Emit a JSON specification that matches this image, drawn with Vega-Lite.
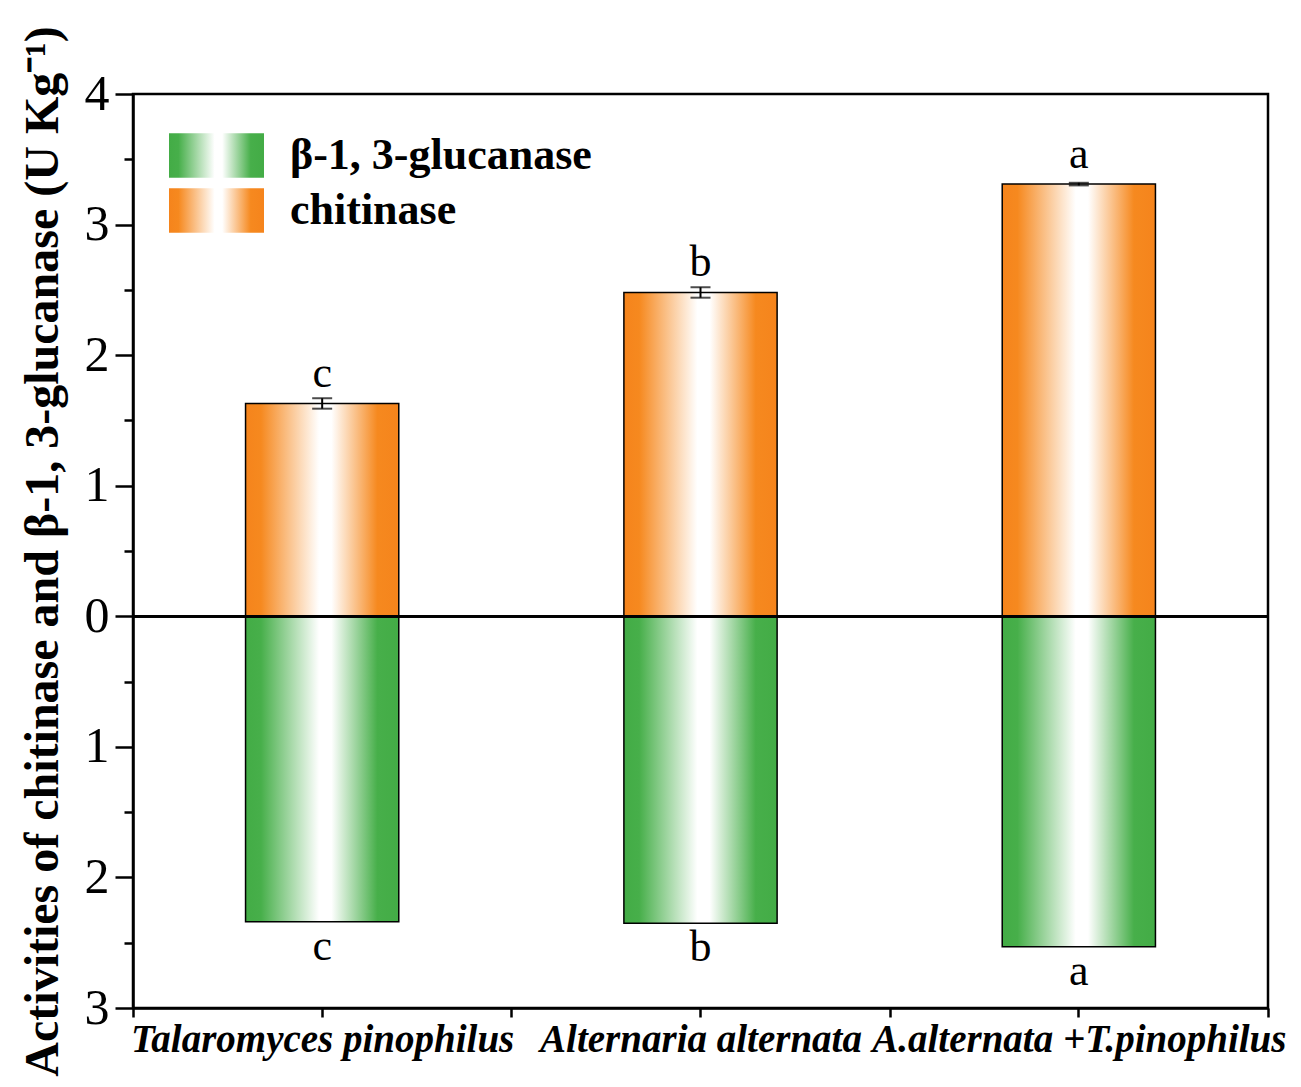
{
  "$schema": "https://vega.github.io/schema/vega-lite/v6.json",
  "autosize": {"type": "none"},
  "width": 1135,
  "height": 914,
  "padding": {"left": 133, "top": 94, "right": 33, "bottom": 79},
  "background": "white",
  "config": {
    "view": {"stroke": "black", "strokeWidth": 2.5},
    "font": "Liberation Serif",
    "legend": {
      "orient": "none", "title": null, "padding": 0,
      "symbolType": "M-1,-0.47H1V0.47H-1Z", "symbolSize": 9025, "symbolStrokeColor": "black",
      "symbolStrokeWidth": 1.5, "symbolOpacity": 1,
      "labelFont": "Liberation Serif", "labelFontSize": 44, "labelFontWeight": "bold", "labelColor": "black",
      "labelOffset": 25, "labelLimit": 0
    }
  },
  "data": {
    "values": [
      {"treatment": "Talaromyces pinophilus", "enzyme": "chitinase", "value": 1.63, "sd": 0.04, "letter": "c"},
      {"treatment": "Alternaria alternata", "enzyme": "chitinase", "value": 2.48, "sd": 0.04, "letter": "b"},
      {"treatment": "A.alternata +T.pinophilus", "enzyme": "chitinase", "value": 3.31, "sd": 0.01, "letter": "a"},
      {"treatment": "Talaromyces pinophilus", "enzyme": "β-1, 3-glucanase", "value": -2.34, "sd": null, "letter": "c"},
      {"treatment": "Alternaria alternata", "enzyme": "β-1, 3-glucanase", "value": -2.35, "sd": null, "letter": "b"},
      {"treatment": "A.alternata +T.pinophilus", "enzyme": "β-1, 3-glucanase", "value": -2.53, "sd": null, "letter": "a"}
    ]
  },
  "resolve": {
    "axis": {"x": "independent", "y": "independent"},
    "scale": {"opacity": "independent"},
    "legend": {"opacity": "independent"}
  },
  "layer": [
    {
      "transform": [{"filter": "datum.enzyme !== 'chitinase'"}],
      "mark": {"type": "bar", "stroke": "black", "strokeWidth": 1.5, "width": {"band": 0.405},
        "fill": {"gradient": "linear", "x1": 0, "y1": 0, "x2": 1, "y2": 0, "stops": [
          {"offset": 0, "color": "#43AC46"}, {"offset": 0.1, "color": "#47AF4A"},
          {"offset": 0.48, "color": "#ffffff"}, {"offset": 0.56, "color": "#ffffff"},
          {"offset": 0.86, "color": "#47AF4A"}, {"offset": 1, "color": "#43AC46"}]}},
      "encoding": {
        "x": {
          "field": "treatment", "type": "nominal",
          "sort": ["Talaromyces pinophilus", "Alternaria alternata", "A.alternata +T.pinophilus"],
          "scale": {"paddingInner": 0, "paddingOuter": 0},
          "axis": {
            "orient": "bottom", "title": null, "tickBand": "extent", "tickSize": 9, "tickWidth": 2.5, "tickColor": "black",
            "domainColor": "black", "domainWidth": 2.5, "labelAngle": 0, "labelFont": "Liberation Serif",
            "labelFontSize": 39, "labelFontWeight": "bold", "labelFontStyle": "italic", "labelColor": "black",
            "labelPadding": 3, "labelLimit": 0, "labelOverlap": false, "grid": false
          }
        },
        "y": {
          "field": "value", "type": "quantitative", "stack": null,
          "scale": {"domain": [-3, 4], "nice": false},
          "axis": {
            "orient": "left", "values": [-3, -2, -1, 0, 1, 2, 3, 4], "labelExpr": "'' + abs(datum.value)",
            "tickSize": 18, "tickWidth": 2.5, "tickColor": "black", "domainColor": "black", "domainWidth": 2.5,
            "labelFont": "Liberation Serif", "labelFontSize": 50, "labelColor": "black", "labelPadding": 6,
            "grid": false,
            "title": "Activities of chitinase and β-1, 3-glucanase     (U Kg⁻¹)",
            "titleFont": "Liberation Serif", "titleFontSize": 48, "titleFontWeight": "bold", "titleColor": "black",
            "titlePadding": 17
          }
        },
        "opacity": {
          "field": "enzyme", "type": "nominal",
          "scale": {"domain": ["β-1, 3-glucanase"], "range": [1]},
          "legend": {"legendX": 35, "legendY": 13}
        }
      }
    },
    {
      "transform": [{"filter": "datum.enzyme === 'chitinase'"}],
      "mark": {"type": "bar", "stroke": "black", "strokeWidth": 1.5, "width": {"band": 0.405},
        "fill": {"gradient": "linear", "x1": 0, "y1": 0, "x2": 1, "y2": 0, "stops": [
          {"offset": 0, "color": "#F5841C"}, {"offset": 0.1, "color": "#F6891F"},
          {"offset": 0.48, "color": "#ffffff"}, {"offset": 0.56, "color": "#ffffff"},
          {"offset": 0.86, "color": "#F6891F"}, {"offset": 1, "color": "#F5841C"}]}},
      "encoding": {
        "x": {"field": "treatment", "type": "nominal", "axis": null,
              "sort": ["Talaromyces pinophilus", "Alternaria alternata", "A.alternata +T.pinophilus"]},
        "y": {"field": "value", "type": "quantitative", "stack": null, "axis": null},
        "opacity": {
          "field": "enzyme", "type": "nominal",
          "scale": {"domain": ["chitinase"], "range": [1]},
          "legend": {"legendX": 35, "legendY": 68}
        }
      }
    },
    {
      "transform": [{"filter": "datum.enzyme === 'chitinase'"}],
      "mark": {"type": "errorbar", "color": "black", "thickness": 2, "ticks": {"size": 20, "thickness": 2, "color": "black"}},
      "encoding": {
        "x": {"field": "treatment", "type": "nominal", "axis": null,
              "sort": ["Talaromyces pinophilus", "Alternaria alternata", "A.alternata +T.pinophilus"]},
        "y": {"field": "value", "type": "quantitative", "axis": null},
        "yError": {"field": "sd"}
      }
    },
    {
      "mark": {"type": "rule", "color": "black", "strokeWidth": 2.5},
      "encoding": {"y": {"datum": 0, "type": "quantitative", "axis": null}}
    },
    {
      "transform": [{"filter": "datum.enzyme === 'chitinase'"}],
      "mark": {"type": "text", "font": "Liberation Serif", "fontSize": 44, "color": "black", "baseline": "alphabetic", "dy": -16},
      "encoding": {
        "x": {
          "field": "treatment", "type": "nominal",
          "sort": ["Talaromyces pinophilus", "Alternaria alternata", "A.alternata +T.pinophilus"],
          "axis": {"orient": "bottom", "title": null, "labels": false, "domain": false, "tickBand": "center",
                   "tickSize": 9, "tickWidth": 2.5, "tickColor": "black", "grid": false}
        },
        "y": {
          "field": "value", "type": "quantitative",
          "axis": {"orient": "left", "title": null, "labels": false, "domain": false,
                   "values": [-2.5, -1.5, -0.5, 0.5, 1.5, 2.5, 3.5],
                   "tickSize": 9, "tickWidth": 2.5, "tickColor": "black", "grid": false}
        },
        "text": {"field": "letter"}
      }
    },
    {
      "transform": [{"filter": "datum.enzyme !== 'chitinase'"}],
      "mark": {"type": "text", "font": "Liberation Serif", "fontSize": 44, "color": "black", "baseline": "alphabetic", "dy": 38},
      "encoding": {
        "x": {"field": "treatment", "type": "nominal", "axis": null,
              "sort": ["Talaromyces pinophilus", "Alternaria alternata", "A.alternata +T.pinophilus"]},
        "y": {"field": "value", "type": "quantitative", "axis": null},
        "text": {"field": "letter"}
      }
    }
  ]
}
